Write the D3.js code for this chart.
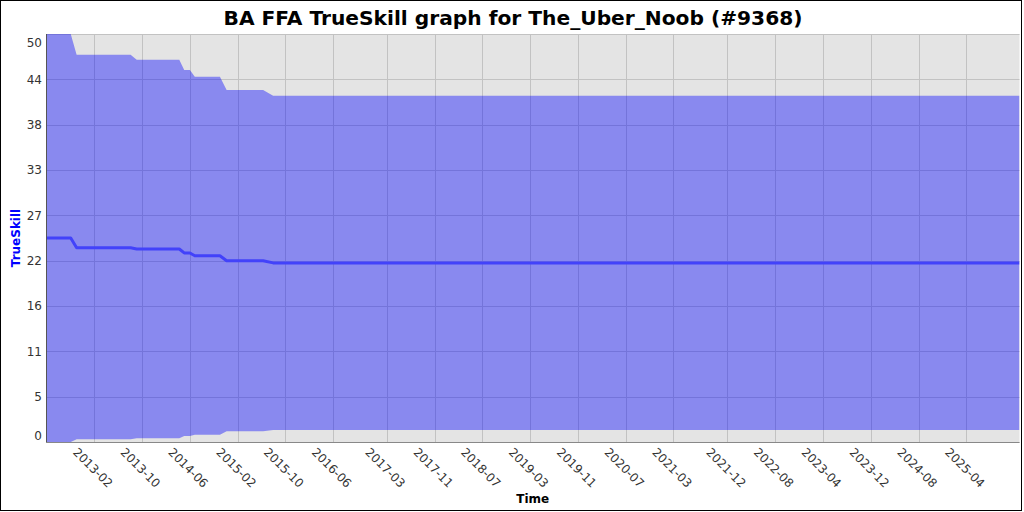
<!DOCTYPE html>
<html>
<head>
<meta charset="utf-8">
<script src="https://cdn.jsdelivr.net/npm/d3@7"></script>
<style>
  html, body { margin: 0; padding: 0; background: #ffffff; }
  svg { display: block; font-family: "DejaVu Sans", sans-serif; }
</style>
</head>
<body>
<svg id="chart" width="1024" height="512"></svg>
<script>
// ---- data ----
const title = "BA FFA TrueSkill graph for The_Uber_Noob (#9368)";
const dates = ["2012-05-31","2012-10-04","2012-11-03","2013-08-05","2013-09-05","2014-04-10","2014-05-05","2014-06-03","2014-06-28","2014-11-03","2014-12-07","2015-06-11","2015-08-01","2025-12-28"];
const mu    = [25, 25, 23.8, 23.8, 23.65, 23.65, 23.17, 23.17, 22.83, 22.83, 22.22, 22.22, 21.95, 21.95];
const upper = [50, 50, 47.45, 47.45, 46.85, 46.85, 45.6, 45.6, 44.77, 44.77, 43.14, 43.14, 42.44, 42.44];
const lower = [0, 0, 0.33, 0.33, 0.45, 0.45, 0.74, 0.74, 0.9, 0.9, 1.31, 1.31, 1.47, 1.47];
const xTickDates = ["2013-02-01","2013-10-01","2014-06-01","2015-02-01","2015-10-01","2016-06-01","2017-03-01","2017-11-01","2018-07-01","2019-03-01","2019-11-01","2020-07-01","2021-03-01","2021-12-01","2022-08-01","2023-04-01","2023-12-01","2024-08-01","2025-04-01"];
const yTickValues = [0, 5.556, 11.111, 16.667, 22.222, 27.778, 33.333, 38.889, 44.444, 50];
const yTickLabels = ["0","5","11","16","22","27","33","38","44","50"];
const yDomain = [0, 50];

// ---- layout ----
const plot = { left: 46, top: 34, right: 1019.5, bottom: 442 };
const parse = d3.utcParse("%Y-%m-%d");
const fmt = d3.utcFormat("%Y-%m");
const pts = dates.map((d, i) => ({ t: parse(d), mu: mu[i], hi: upper[i], lo: lower[i] }));

const x = d3.scaleUtc().domain(d3.extent(pts, d => d.t)).range([plot.left, plot.right]);
const y = d3.scaleLinear().domain(yDomain).range([plot.bottom, plot.top]);

const svg = d3.select("#chart");

// outer border
svg.append("rect").attr("x", 0.5).attr("y", 0.5).attr("width", 1021).attr("height", 510)
  .attr("fill", "#fff").attr("stroke", "#000").attr("stroke-width", 1);

// title
svg.append("text").attr("x", 513).attr("y", 25).attr("text-anchor", "middle")
  .attr("font-size", 20.2).attr("font-weight", "bold").attr("fill", "#000").text(title);

// plot background
svg.append("rect").attr("x", plot.left).attr("y", plot.top)
  .attr("width", plot.right - plot.left).attr("height", plot.bottom - plot.top)
  .attr("fill", "#e4e4e4");

svg.append("clipPath").attr("id", "clip").append("rect")
  .attr("x", plot.left).attr("y", plot.top)
  .attr("width", plot.right - plot.left).attr("height", plot.bottom - plot.top);

// gridlines
const xTicks = xTickDates.map(parse);
const grid = svg.append("g");
grid.selectAll("line.v").data(xTicks).join("line")
  .attr("x1", d => Math.round(x(d)) + 0.5).attr("x2", d => Math.round(x(d)) + 0.5)
  .attr("y1", plot.top).attr("y2", plot.bottom)
  .attr("stroke", "#c2c2c2").attr("stroke-width", 1);
grid.selectAll("line.h").data(yTickValues).join("line")
  .attr("x1", plot.left).attr("x2", plot.right)
  .attr("y1", d => Math.round(y(d)) + 0.5).attr("y2", d => Math.round(y(d)) + 0.5)
  .attr("stroke", "#c2c2c2").attr("stroke-width", 1);

// band
const g = svg.append("g").attr("clip-path", "url(#clip)");
const area = d3.area().x(d => x(d.t)).y0(d => y(d.lo)).y1(d => y(d.hi));
g.append("path").datum(pts).attr("d", area).attr("fill", "#0000ff").attr("fill-opacity", 0.4);

// mu line
const line = d3.line().x(d => x(d.t)).y(d => y(d.mu));
g.append("path").datum(pts).attr("d", line).attr("fill", "none")
  .attr("stroke", "#4242fa").attr("stroke-width", 3).attr("stroke-linejoin", "round");

// axes lines
svg.append("line").attr("x1", plot.left + 0.5).attr("x2", plot.left + 0.5)
  .attr("y1", plot.top).attr("y2", plot.bottom + 0.5).attr("stroke", "#555").attr("stroke-width", 1);
svg.append("line").attr("x1", plot.left).attr("x2", plot.right)
  .attr("y1", plot.bottom + 0.5).attr("y2", plot.bottom + 0.5).attr("stroke", "#888").attr("stroke-width", 1);

// y tick labels
svg.append("g").selectAll("text").data(yTickValues).join("text")
  .attr("x", 42).attr("y", d => Math.max(plot.top + 8.5, Math.min(plot.bottom - 6, y(d))))
  .attr("dy", "0.35em").attr("text-anchor", "end").attr("font-size", 12).attr("fill", "#333")
  .text((d, i) => yTickLabels[i]);

// x tick labels (rotated 45deg)
svg.append("g").selectAll("text").data(xTicks).join("text")
  .attr("transform", d => `translate(${x(d) - 22},${plot.bottom + 11}) rotate(45)`)
  .attr("text-anchor", "start").attr("font-size", 12).attr("fill", "#333")
  .text(d => fmt(d));

// axis titles
svg.append("text").attr("x", (plot.left + plot.right) / 2).attr("y", 503)
  .attr("text-anchor", "middle").attr("font-size", 12).attr("font-weight", "bold").attr("fill", "#000")
  .text("Time");
svg.append("text").attr("transform", `translate(20,${(plot.top + plot.bottom) / 2}) rotate(-90)`)
  .attr("text-anchor", "middle").attr("font-size", 12).attr("font-weight", "bold").attr("fill", "#0000ff")
  .text("TrueSkill");
</script>
</body>
</html>
